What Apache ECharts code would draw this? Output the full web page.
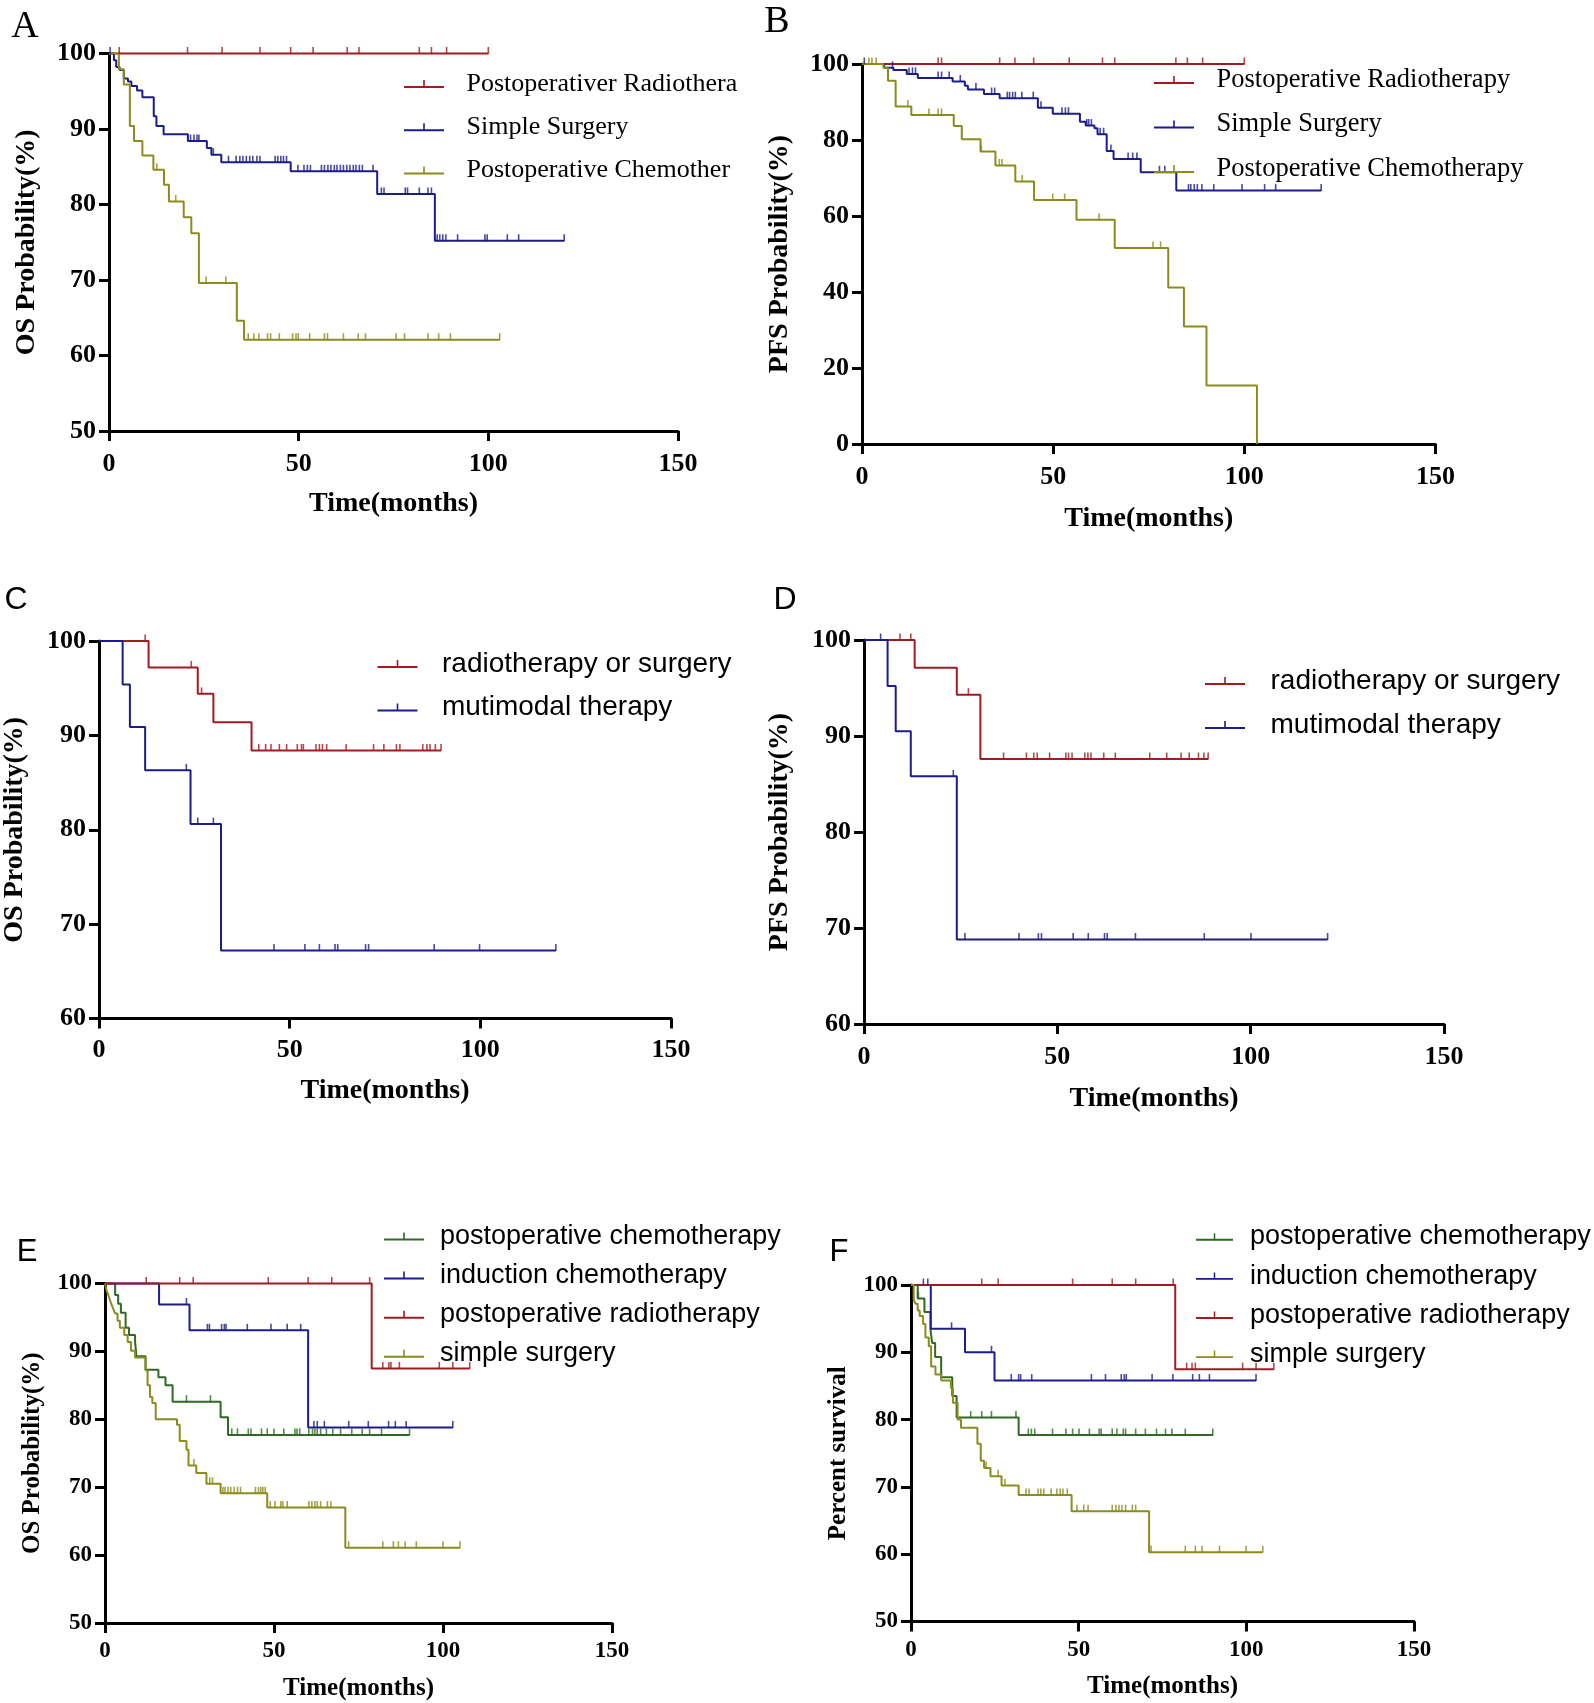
<!DOCTYPE html>
<html><head><meta charset="utf-8">
<script src="https://cdn.jsdelivr.net/npm/echarts@6/dist/echarts.min.js"></script>
<style>html,body{margin:0;padding:0;background:#fff}#c{width:1594px;height:1703px}</style>
</head><body><div id="c"></div>
<script>
// ================= DATA =================
const xTickLabels = [0, 50, 100, 150];

// ---- Panel A (OS) ----
const A_names = ['Postoperativer Radiotherapy', 'Simple Surgery', 'Postoperative Chemotherapy'];
const A_rad_t = [];
const A_rad_s = [];
const A_rad_end = 100;
const A_rad_c = [2.7, 20.7, 29.8, 39.8, 47.9, 53.8, 62.8, 65.9, 81.8, 85, 89, 100];
const A_surg_t = [1.3, 1.9, 2.8, 3.9, 5.0, 5.9, 7.4, 8.8, 11.8, 12.5, 14.4, 20.8, 25.8, 27.0, 29.6, 47.9, 70.7, 85.9];
const A_surg_s = [99.1, 98.2, 97.8, 96.7, 96.3, 95.7, 95.1, 94.2, 91.7, 90.4, 89.3, 88.4, 87.5, 86.6, 85.6, 84.4, 81.4, 75.2];
const A_surg_end = 120;
const A_surg_c = [0.3, 21.5, 22.4, 23.2, 23.7, 27.5, 31.5, 33.5, 34.5, 35.3, 36.2, 37.1, 37.9, 39, 39.8, 43.8, 44.5, 45.3, 46, 46.8,
  49.8, 51.4, 52.3, 53.1, 56, 56.8, 57.7, 58.5, 59.4, 60.1, 61, 61.8, 62.7, 63.5, 64.4, 65.1, 66, 66.8, 69.6,
  71.8, 72.5, 78.1, 78.7, 81.8, 84.1, 85, 86.5, 87.2, 88, 88.8, 91.9, 99.1, 99.7, 105, 108, 120];
const A_chemo_t = [2.6, 3.9, 5.5, 6.6, 8.8, 11.7, 14.5, 15.8, 19.7, 21.7, 23.7, 33.7, 35.6];
const A_chemo_s = [97.9, 95.9, 90.4, 88.4, 86.5, 84.6, 82.6, 80.4, 78.3, 76.2, 69.6, 64.6, 62.1];
const A_chemo_end = 103;
const A_chemo_c = [12.6, 17.6, 25.6, 30.8, 36.7, 38.2, 39.5, 41.8, 42.6, 44.9, 48.4, 49.3, 49.9, 52.9, 56.8, 57.6, 61.8, 65.7, 67.6, 75.7, 77.9, 84.1, 86.9, 90, 103];

// ---- Panel B (PFS) ----
const B_names = ['Postoperative Radiotherapy', 'Simple Surgery', 'Postoperative Chemotherapy'];
const B_rad_t = [];
const B_rad_s = [];
const B_rad_end = 100;
const B_rad_c = [19.9, 20.8, 36, 40, 44.9, 54.2, 62.9, 66.1, 82.1, 85.1, 89.1, 100];
const B_surg_t = [5.8, 8.2, 11.7, 14.6, 23.7, 26.9, 27.7, 31.9, 36, 46, 49.9, 57, 58.5, 60.8, 61.6, 64, 65.8, 72.9, 82.2];
const B_surg_s = [99.0, 98.4, 97.4, 96.3, 95.4, 94.3, 93.3, 92.1, 91.0, 88.5, 86.9, 84.8, 83.8, 83.1, 81.5, 77.1, 75.0, 71.5, 66.7];
const B_surg_end = 120.1;
const B_surg_c = [0.6, 8, 12.3, 13.2, 14, 19.9, 20.8, 22.8, 25.7, 29.8, 33.9, 34.7, 38, 38.6, 39.4, 40.1, 41.8, 44.8, 46.8, 52.3, 53.2, 54,
  58.8, 59.3, 60, 62.3, 63.2, 65.1, 69.6, 70.8, 71.9, 77.8, 79.2, 85.4, 86, 86.9, 87.7, 88.9, 92, 99.4, 105.3, 108.2, 120.1];
const B_chemo_t = [5.6, 6.8, 8.8, 12.9, 24, 26.1, 31, 34.9, 40.1, 45, 56.1, 66.1, 80.1, 84.2, 90.1, 103.3];
const B_chemo_s = [99.0, 95.6, 88.8, 86.6, 83.7, 80.2, 77.0, 73.3, 69.1, 64.2, 59.0, 51.6, 41.2, 30.9, 15.4, 0];
const B_chemo_end = 103.3;
const B_chemo_c = [1.8, 2.6, 3.7, 12, 17.5, 19.9, 20.8, 31.2, 35.9, 36.6, 41.9, 49.9, 53, 62, 76.1, 78.1];

// ---- Panel C (OS) ----
const C_names = ['radiotherapy or surgery', 'mutimodal therapy'];
const C_rs_t = [13.0, 25.9, 30.0, 40.0];
const C_rs_s = [97.2, 94.4, 91.4, 88.4];
const C_rs_end = 89.7;
const C_rs_c = [12.1, 24.2, 26.9, 41.9, 43.7, 45.1, 47.3, 49.2, 52, 53.1, 53.6, 56.9, 57.8, 58.6, 59.7, 64.8, 72, 74.7, 78, 78.9, 84.9, 86, 86.8, 88.2, 89.7];
const C_mm_t = [6.2, 8.1, 12.1, 24, 32];
const C_mm_s = [95.4, 90.9, 86.3, 80.6, 67.2];
const C_mm_end = 119.8;
const C_mm_c = [22.9, 25.9, 30, 45.9, 54, 57.8, 61.9, 62.6, 69.9, 70.7, 87.9, 99.8, 119.8];

// ---- Panel D (PFS) ----
const D_names = ['radiotherapy or surgery', 'mutimodal therapy'];
const D_rs_t = [13.1, 24, 30.1];
const D_rs_s = [97.1, 94.3, 87.6];
const D_rs_end = 89;
const D_rs_c = [9.3, 12.1, 27, 36.1, 42, 43.9, 44.8, 48, 52.2, 52.9, 53.8, 57.1, 57.9, 58.7, 62, 65, 73.9, 78.3, 82, 84.1, 86.5, 87.9, 89];
const D_mm_t = [6.1, 8.2, 12.1, 24];
const D_mm_s = [95.2, 90.5, 85.8, 68.8];
const D_mm_end = 119.9;
const D_mm_c = [4.3, 23.1, 26.1, 40.1, 45.1, 45.9, 54.1, 58, 62.2, 62.9, 70.2, 88, 100.1, 119.9];

// ---- Panel E (OS) ----
const E_names = ['postoperative chemotherapy', 'induction chemotherapy', 'postoperative radiotherapy', 'simple surgery'];
const E_pc_t = [3.0, 3.9, 4.7, 6.1, 7.1, 8.9, 9.3, 12.0, 15.8, 17.9, 20.0, 34.2, 36.4];
const E_pc_s = [98.3, 97.0, 95.7, 93.5, 92.4, 91.4, 89.3, 87.3, 86.2, 85.0, 82.6, 80.3, 77.7];
const E_pc_end = 90.1;
const E_pc_c = [24.1, 31.2, 37.5, 39.2, 42.4, 43.2, 46.3, 48, 50, 52.9, 56.2, 56.8, 57.6, 60.3, 61.4, 62.1, 62.8, 63.8, 65.5, 67.4, 69.7, 73, 76.1, 78.3, 81.8, 90.1];
const E_ic_t = [16.0, 25.0, 60.1];
const E_ic_s = [96.9, 93.1, 78.8];
const E_ic_end = 102.9;
const E_ic_c = [24.1, 30.3, 30.9, 34.5, 35.3, 35.8, 42.1, 49.1, 53.9, 57.9, 61.8, 62.8, 64.9, 72.1, 77.9, 83.9, 85.9, 89.1, 102.9];
const E_pr_t = [78.9];
const E_pr_s = [87.5];
const E_pr_end = 107.9;
const E_pr_c = [12.2, 22.1, 26.1, 48.3, 60.1, 67.1, 78.3, 82.2, 84, 84.6, 87.1, 98.9, 102.9, 107.9];
const E_ss_t = [0.5, 1.0, 1.5, 2.0, 2.5, 3.0, 3.7, 4.4, 5.7, 6.7, 7.7, 8.9, 12.0, 12.6, 13.3, 14.0, 15.0, 21.3, 22.1, 24.1, 24.7, 27, 30, 34.2, 48, 71.1];
const E_ss_s = [98.9, 98.3, 97.5, 96.8, 96.2, 95.6, 94.5, 93.5, 92.4, 91.4, 90.1, 89.1, 87.2, 85.0, 83.3, 82.4, 80.0, 79.2, 76.8, 75.5, 73.2, 72.1, 70.5, 69.1, 67.0, 61.1];
const E_ss_end = 105;
const E_ss_c = [26.3, 31.0, 31.8, 34.9, 35.5, 36.4, 37.2, 38.2, 39.2, 40.1, 44.5, 45.4, 46.1, 46.7, 47.4, 48.9, 50.3, 52, 52.6, 53.9,
  60.3, 61.2, 62.1, 62.8, 63.8, 65.8, 66.8, 72.1, 82.2, 85.3, 86.8, 88.8, 92.1, 100, 105];

// ---- Panel F (Percent survival) ----
const F_names = ['postoperative chemotherapy', 'induction chemotherapy', 'postoperative radiotherapy', 'simple surgery'];
const F_pc_t = [2.0, 4.0, 5.8, 6.3, 7.2, 9.0, 12.3, 13.6, 32.1];
const F_pc_s = [98.0, 96.0, 93.4, 91.4, 89.3, 86.3, 83.5, 80.3, 77.7];
const F_pc_end = 90;
const F_pc_c = [2.2, 17.8, 21.1, 24, 31.3, 35, 35.9, 36.9, 42.2, 46.2, 48.2, 50.1, 53.2, 56.1, 56.7, 60, 61.4, 63.3, 64, 67, 69.9, 73.2, 75.9, 77.8, 81.8, 90];
const F_ic_t = [5.9, 16.1, 24.9];
const F_ic_s = [93.5, 90.0, 85.8];
const F_ic_end = 102.9;
const F_ic_c = [3.7, 5, 12.1, 24, 29.9, 32.1, 32.7, 36, 53.8, 58, 62.7, 63.6, 64.2, 71.9, 78.1, 84, 86, 89, 102.9];
const F_pr_t = [78.8];
const F_pr_s = [87.5];
const F_pr_end = 108.2;
const F_pr_c = [21.1, 26, 48.2, 60, 67, 78.2, 82.2, 83.8, 84.8, 98.9, 102.9, 108.2];
const F_ss_t = [0.8, 1.3, 2.0, 2.6, 3.6, 4.3, 5.3, 6.0, 7.3, 9.0, 11.9, 12.5, 13.9, 14.9, 19.8, 20.8, 21.8, 23.7, 27, 32.1, 47.9, 71];
const F_ss_s = [97.9, 97.2, 96.2, 95.4, 94.2, 92.2, 90.9, 87.9, 86.7, 85.8, 84.7, 82.5, 80.0, 78.8, 76.4, 73.9, 72.8, 71.6, 70.2, 68.8, 66.4, 60.3];
const F_ss_end = 104.9;
const F_ss_c = [22.4, 26, 28, 34.3, 35.2, 37.9, 38.7, 39.6, 41.8, 43.5, 44.5, 45.3, 46.6, 49.5, 51.5, 52.8, 60, 61.1, 62, 62.9, 64, 66, 67, 71.6, 81.8, 84.8, 86.8, 92, 99.9, 104.9];

// ================= STYLE / LAYOUT =================
const COL = { red: '#A01C20', blue: '#1C1C8A', olive: '#8C8B1E', green: '#2D6A22' };
const SERIF = '"Liberation Serif", "Times New Roman", serif';
const SANS = '"Liberation Sans", Arial, sans-serif';
const LEG_ICON = 'path://M0,6h40v2h-40z M19.2,0h1.6v6h-1.6z';

const panels = [
  { letter: 'A', lx: 25, ly: 27, lfont: '38px ' + SERIF,
    grid: [109, 53.5, 569, 377.5], yMin: 50, yInt: 10, yName: 'OS Probability(%)',
    tickFs: 26, titleFs: 28, xGap: 59, yGap: 68, xMargin: 20, yMargin: 13,
    legend: { left: 404, top: 69, gap: 13.3, w: 41, pad: 17, fam: SERIF, fs: 26, lh: 30, clip: 268 },
    groups: [
      { name: A_names[0], color: COL.red, t: A_rad_t, s: A_rad_s, end: A_rad_end, c: A_rad_c },
      { name: A_names[1], color: COL.blue, t: A_surg_t, s: A_surg_s, end: A_surg_end, c: A_surg_c },
      { name: A_names[2], color: COL.olive, t: A_chemo_t, s: A_chemo_s, end: A_chemo_end, c: A_chemo_c }
    ] },
  { letter: 'B', lx: 777, ly: 22, lfont: '38px ' + SERIF,
    grid: [862, 64, 573.5, 380], yMin: 0, yInt: 20, yName: 'PFS Probability(%)',
    tickFs: 26, titleFs: 28, xGap: 61, yGap: 68, xMargin: 20, yMargin: 13,
    legend: { left: 1154, top: 65, gap: 14.5, w: 41, pad: 17, fam: SERIF, fs: 26.5, lh: 30 },
    groups: [
      { name: B_names[0], color: COL.red, t: B_rad_t, s: B_rad_s, end: B_rad_end, c: B_rad_c },
      { name: B_names[1], color: COL.blue, t: B_surg_t, s: B_surg_s, end: B_surg_end, c: B_surg_c },
      { name: B_names[2], color: COL.olive, t: B_chemo_t, s: B_chemo_s, end: B_chemo_end, c: B_chemo_c }
    ] },
  { letter: 'C', lx: 16, ly: 600, lfont: '32px ' + SANS,
    grid: [99, 641, 572, 377.5], yMin: 60, yInt: 10, yName: 'OS Probability(%)',
    tickFs: 26, titleFs: 28, xGap: 58, yGap: 70, xMargin: 19, yMargin: 13,
    legend: { left: 377.5, top: 647, gap: 9.6, w: 41, pad: 19, fam: SANS, fs: 28, lh: 34 },
    groups: [
      { name: C_names[0], color: COL.red, t: C_rs_t, s: C_rs_s, end: C_rs_end, c: C_rs_c },
      { name: C_names[1], color: COL.blue, t: C_mm_t, s: C_mm_s, end: C_mm_end, c: C_mm_c }
    ] },
  { letter: 'D', lx: 785, ly: 600, lfont: '32px ' + SANS,
    grid: [864, 640, 580, 384], yMin: 60, yInt: 10, yName: 'PFS Probability(%)',
    tickFs: 26, titleFs: 28, xGap: 61, yGap: 70, xMargin: 20, yMargin: 13,
    legend: { left: 1205, top: 664, gap: 10, w: 41, pad: 20, fam: SANS, fs: 28, lh: 34 },
    groups: [
      { name: D_names[0], color: COL.red, t: D_rs_t, s: D_rs_s, end: D_rs_end, c: D_rs_c },
      { name: D_names[1], color: COL.blue, t: D_mm_t, s: D_mm_s, end: D_mm_end, c: D_mm_c }
    ] },
  { letter: 'E', lx: 27, ly: 1252, lfont: '31px ' + SANS,
    grid: [105, 1283.5, 507, 339.5], yMin: 50, yInt: 10, yName: 'OS Probability(%)',
    tickFs: 23, titleFs: 25, xGap: 53, yGap: 60, xMargin: 17, yMargin: 13,
    legend: { left: 384, top: 1220.5, gap: 7.1, w: 40, pad: 11, fam: SANS, fs: 27, lh: 32 },
    groups: [
      { name: E_names[0], color: COL.green, t: E_pc_t, s: E_pc_s, end: E_pc_end, c: E_pc_c },
      { name: E_names[1], color: COL.blue, t: E_ic_t, s: E_ic_s, end: E_ic_end, c: E_ic_c },
      { name: E_names[2], color: COL.red, t: E_pr_t, s: E_pr_s, end: E_pr_end, c: E_pr_c },
      { name: E_names[3], color: COL.olive, t: E_ss_t, s: E_ss_s, end: E_ss_end, c: E_ss_c }
    ] },
  { letter: 'F', lx: 839, ly: 1252, lfont: '31px ' + SANS,
    grid: [911, 1285, 503, 336.5], yMin: 50, yInt: 10, yName: 'Percent survival',
    tickFs: 23, titleFs: 25, xGap: 53, yGap: 60, xMargin: 17, yMargin: 13,
    legend: { left: 1196, top: 1221, gap: 7.1, w: 37, pad: 12, fam: SANS, fs: 27, lh: 32 },
    groups: [
      { name: F_names[0], color: COL.green, t: F_pc_t, s: F_pc_s, end: F_pc_end, c: F_pc_c },
      { name: F_names[1], color: COL.blue, t: F_ic_t, s: F_ic_s, end: F_ic_end, c: F_ic_c },
      { name: F_names[2], color: COL.red, t: F_pr_t, s: F_pr_s, end: F_pr_end, c: F_pr_c },
      { name: F_names[3], color: COL.olive, t: F_ss_t, s: F_ss_s, end: F_ss_end, c: F_ss_c }
    ] }
];

// ================= HELPERS =================
function stepPts(t, s, end) {
  const pts = [[0, 100]];
  let prev = 100;
  for (let i = 0; i < t.length; i++) {
    pts.push([t[i], prev]);
    pts.push([t[i], s[i]]);
    prev = s[i];
  }
  const last = t.length ? t[t.length - 1] : 0;
  if (end > last) pts.push([end, prev]);
  return pts;
}
function survAt(t, s, x) {
  let v = 100;
  for (let i = 0; i < t.length; i++) if (t[i] <= x) v = s[i];
  return v;
}
// Clip legend text at a pixel width, like the cropped original (keep a glyph if its middle is visible)
const measureCtx = document.createElement('canvas').getContext('2d');
function clipText(text, font, limit) {
  measureCtx.font = font;
  let out = '';
  for (let i = 0; i < text.length; i++) {
    const start = measureCtx.measureText(text.slice(0, i)).width;
    const w = measureCtx.measureText(text[i]).width;
    if (start + w / 2 > limit) break;
    out += text[i];
  }
  return out;
}

// ================= OPTION =================
const option = {
  animation: false,
  backgroundColor: '#ffffff',
  textStyle: { fontFamily: SERIF },
  grid: [], xAxis: [], yAxis: [], legend: [], series: [], graphic: []
};

panels.forEach((p, i) => {
  option.grid.push({ left: p.grid[0], top: p.grid[1], width: p.grid[2], height: p.grid[3], containLabel: false });
  const axisCommon = {
    axisLine: { show: true, onZero: false, lineStyle: { color: '#000', width: 3 } },
    axisTick: { show: true, length: 10, lineStyle: { color: '#000', width: 3 } },
    splitLine: { show: false },
    nameTextStyle: { fontFamily: SERIF, fontWeight: 'bold', fontSize: p.titleFs, color: '#000' }
  };
  option.xAxis.push(Object.assign({
    gridIndex: i, type: 'value', min: xTickLabels[0], max: xTickLabels[xTickLabels.length - 1], interval: xTickLabels[1] - xTickLabels[0],
    name: 'Time(months)', nameLocation: 'middle', nameGap: p.xGap,
    axisLabel: { margin: p.xMargin, color: '#000', fontFamily: SERIF, fontWeight: 'bold', fontSize: p.tickFs, showMinLabel: true, showMaxLabel: true }
  }, axisCommon));
  option.yAxis.push(Object.assign({
    gridIndex: i, type: 'value', min: p.yMin, max: 100, interval: p.yInt,
    name: p.yName, nameLocation: 'middle', nameRotate: 90, nameGap: p.yGap,
    axisLabel: { margin: p.yMargin, color: '#000', fontFamily: SERIF, fontWeight: 'bold', fontSize: p.tickFs, showMinLabel: true, showMaxLabel: true }
  }, axisCommon));

  const L = p.legend;
  const ts = { fontFamily: L.fam, fontSize: L.fs, color: '#000', lineHeight: L.lh, padding: [0, 0, 0, L.pad] };
  const leg = {
    data: p.groups.map(g => g.name), orient: 'vertical', left: L.left, top: L.top, itemGap: L.gap,
    itemWidth: L.w, itemHeight: 8, icon: LEG_ICON, selectedMode: false, padding: 0,
    itemStyle: { borderWidth: 0 }, textStyle: ts, tooltip: { show: false }
  };
  if (L.clip) {
    const font = L.fs + 'px ' + L.fam;
    leg.formatter = name => clipText(name, font, L.clip);
  }
  option.legend.push(leg);

  p.groups.forEach((g, k) => {
    option.series.push({
      type: 'line', name: g.name, xAxisIndex: i, yAxisIndex: i,
      data: stepPts(g.t, g.s, g.end), showSymbol: false, symbol: 'none',
      lineStyle: { color: g.color, width: 2 }, itemStyle: { color: g.color },
      clip: false, silent: true, z: 3
    });
    option.series.push({
      type: 'scatter', name: p.letter + '-censored-' + k, xAxisIndex: i, yAxisIndex: i,
      data: g.c.map(x => [x, survAt(g.t, g.s, x)]),
      symbol: 'rect', symbolSize: [1.6, 7], symbolOffset: [0, -3],
      itemStyle: { color: g.color }, clip: false, silent: true, z: 3
    });
  });

  option.graphic.push({
    type: 'text', x: p.lx, y: p.ly,
    style: { text: p.letter, font: p.lfont, fill: '#000', align: 'center', verticalAlign: 'middle', textAlign: 'center', textVerticalAlign: 'middle' }
  });
});

const chart = echarts.init(document.getElementById('c'), null, { renderer: 'canvas' });
chart.setOption(option);
</script>
</body></html>
